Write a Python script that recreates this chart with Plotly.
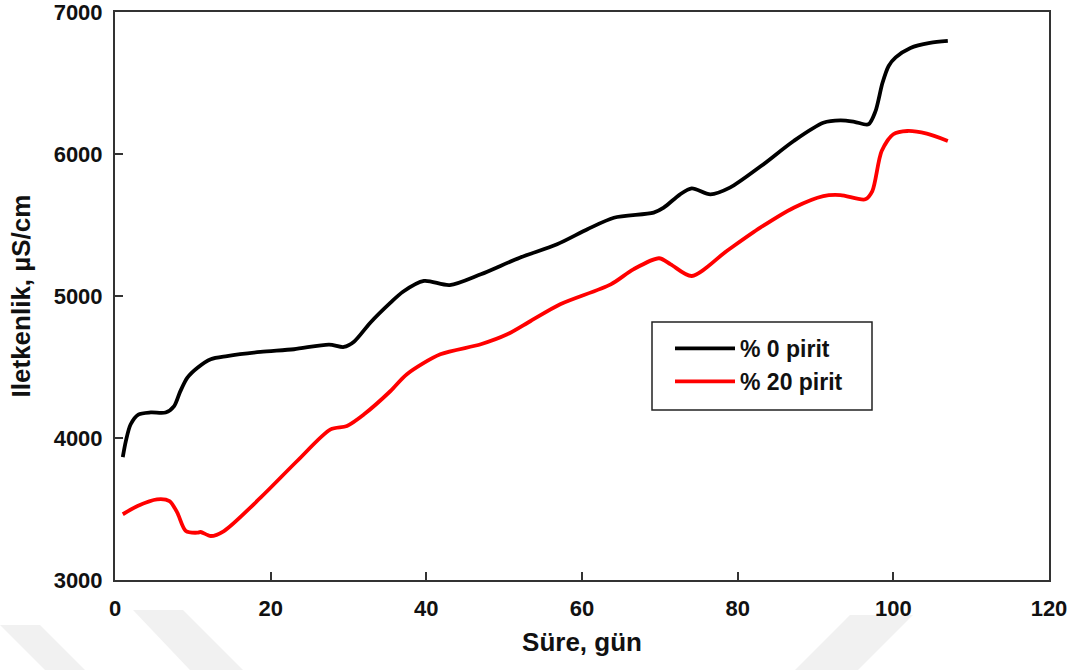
import plotly.graph_objects as go

# ---- data ----
days_0 = [1, 1.4, 2, 3, 4.6, 6.5, 7.6, 8.4, 9.3, 10.6, 12.3, 14.4, 18.7, 23, 27.5, 29.4,
          30.7, 32.8, 35.4, 37, 39.7, 43, 47, 52, 56.8, 60.7, 64.1, 69.2, 70.5, 72.6,
          74.1, 76.5, 79, 83, 87.2, 91, 93.2, 95, 96.8, 97.7, 98.6, 99.4, 100.3, 102.2,
          104.7, 107]
cond_0 = [3865, 3980, 4095, 4165, 4180, 4180, 4225, 4330, 4425, 4495, 4555, 4577, 4606,
          4625, 4658, 4641, 4678, 4812, 4953, 5030, 5106, 5077, 5153, 5270, 5364, 5470,
          5551, 5587, 5622, 5716, 5758, 5716, 5763, 5915, 6092, 6220, 6237, 6227, 6209,
          6300, 6500, 6620, 6680, 6747, 6782, 6796]

days_20 = [1, 2.9, 5.4, 7, 8, 9.1, 10.6, 11, 12.3, 14, 18.7, 23.4, 27.7, 29.8, 32, 35.4,
           37.5, 41.8, 47, 50.4, 53.4, 57.2, 63.7, 66.6, 69.9, 71.4, 74.1, 78.6, 82.9,
           87.2, 91, 93.2, 96.4, 97.3, 98.5, 100, 101.8, 104.3, 107]
cond_20 = [3463, 3521, 3568, 3556, 3474, 3345, 3333, 3338, 3310, 3345, 3580, 3838, 4061,
           4085, 4167, 4331, 4449, 4589, 4660, 4730, 4824, 4942, 5082, 5188, 5266, 5223,
           5141, 5317, 5481, 5622, 5704, 5711, 5681, 5739, 6021, 6139, 6162, 6143, 6092]

series_names = ["% 0 pirit", "% 20 pirit"]
series_colors = ["#000000", "#ff0000"]

x_ticks = [0, 20, 40, 60, 80, 100, 120]
y_ticks = [3000, 4000, 5000, 6000, 7000]

W, H = 1074, 670
ML, MR, MT, MB = 115, 25, 12, 90
PW, PH = W - ML - MR, H - MT - MB


def px(x, y):
    return (x - ML) / PW, (H - MB - y) / PH


def poly(points):
    pts = [px(a, b) for a, b in points]
    return "M " + " L ".join(f"{a:.4f},{b:.4f}" for a, b in pts) + " Z"


FONT = "Liberation Sans, Arial, sans-serif"

fig = go.Figure()
for xs, ys, name, col in [(days_0, cond_0, series_names[0], series_colors[0]),
                          (days_20, cond_20, series_names[1], series_colors[1])]:
    fig.add_trace(go.Scatter(x=xs, y=ys, mode="lines", name=name,
                             line=dict(color=col, width=3.8, shape="spline", smoothing=0.8)))

shapes = []
# faint watermark chevrons
for pts in [
    [(133, 610), (183, 610), (243, 670), (190, 670)],
    [(0, 625), (40, 625), (85, 670), (45, 670)],
    [(850, 615), (913, 615), (858, 670), (795, 670)],
]:
    shapes.append(dict(type="path", xref="paper", yref="paper", path=poly(pts),
                       fillcolor="#f1f1f1", line=dict(width=0), layer="below"))
# legend frame
x0, y0 = px(652, 410)
x1, y1 = px(872, 322)
shapes.append(dict(type="rect", xref="paper", yref="paper", x0=x0, y0=y0, x1=x1, y1=y1,
                   line=dict(color="#222222", width=1.5), fillcolor="white", layer="below"))

lx, ly = px(670, 327)

fig.update_layout(
    width=W, height=H,
    margin=dict(l=ML, r=MR, t=MT, b=MB, autoexpand=False),
    paper_bgcolor="white", plot_bgcolor="rgba(0,0,0,0)",
    font=dict(family=FONT, color="#111111"),
    shapes=shapes,
    showlegend=True,
    legend=dict(x=lx, y=ly, xanchor="left", yanchor="top",
                bgcolor="rgba(0,0,0,0)", borderwidth=0,
                font=dict(family=FONT, size=23, weight="bold", color="#111111"),
                itemwidth=60, tracegroupgap=0),
    xaxis=dict(range=[0, 120], tickvals=x_ticks, ticks="inside", ticklen=8, tickwidth=1.5,
               tickcolor="#333333", showline=True, mirror=True, linecolor="#333333",
               linewidth=2, showgrid=False, zeroline=False, automargin=False,
               ticklabeloverflow="allow",
               tickfont=dict(family=FONT, size=22, weight="bold", color="#111111"),
               ticklabelstandoff=8,
               title=dict(text="Süre, gün", standoff=12,
                          font=dict(family=FONT, size=26, weight="bold", color="#111111"))),
    yaxis=dict(range=[3000, 7000], tickvals=y_ticks, ticks="inside", ticklen=8, tickwidth=1.5,
               tickcolor="#333333", showline=True, mirror=True, linecolor="#333333",
               linewidth=2, showgrid=False, zeroline=False, automargin=False,
               ticklabeloverflow="allow",
               tickfont=dict(family=FONT, size=22, weight="bold", color="#111111"),
               ticklabelstandoff=6,
               title=dict(text="Iletkenlik, µS/cm", standoff=16,
                          font=dict(family=FONT, size=26, weight="bold", color="#111111"))),
)

fig.write_html("out.html")
